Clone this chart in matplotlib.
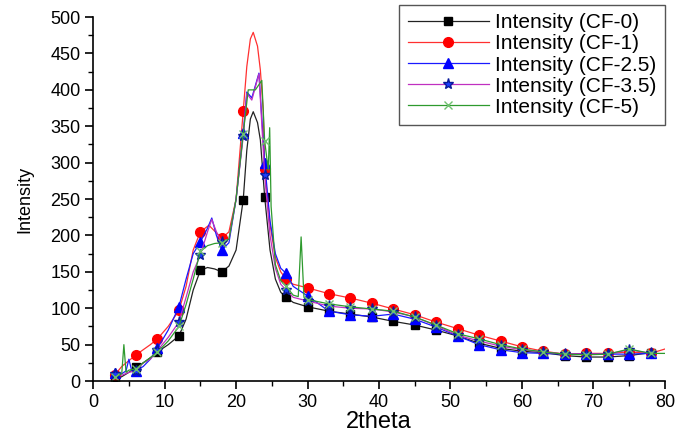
import numpy as np
import matplotlib
matplotlib.use('Agg')
import matplotlib.pyplot as plt
import matplotlib.ticker as mticker

plt.rcParams['font.family'] = ['Liberation Sans', 'DejaVu Sans']

# marker positions (every 3 degrees)
XM = np.arange(3, 79, 3)

# CF-0
x0 = [3, 4, 5, 6, 7, 8, 9, 10.5, 12, 13, 14, 15, 16, 17, 18, 19, 20, 21, 21.5, 22, 22.4, 23, 23.4, 24,
      24.75, 25.5, 26.25, 27, 28, 30, 33, 36, 39, 42, 45, 48, 51, 54, 57, 60, 63, 66, 69, 72, 75, 78]
y0 = [1, 6, 12, 19, 25, 32, 40, 50, 62, 85, 125, 152, 156, 154, 150, 158, 180, 249, 317, 360, 370, 355, 331, 253,
      180, 140, 122, 115, 108, 102, 96, 92, 88, 82, 77, 70, 62, 52, 45, 41, 39, 35, 33, 33, 35, 39]

# CF-1
x1 = [3, 4, 5, 6, 7, 8, 9, 10.5, 12, 13, 14, 15, 16.2, 17, 18, 19, 20, 21, 21.5, 22, 22.4, 23, 23.4, 23.8, 24,
      24.75, 25.5, 26.25, 27, 28, 30, 33, 36, 39, 42, 45, 48, 51, 54, 57, 60, 63, 66, 69, 72, 75, 78, 80]
y1 = [8, 20, 28, 36, 43, 50, 58, 75, 97, 130, 180, 205, 214, 206, 196, 205, 250, 371, 432, 470, 479, 460, 427, 372, 291,
      215, 170, 150, 140, 133, 128, 120, 114, 107, 99, 91, 81, 72, 63, 55, 47, 41, 37, 38, 38, 40, 38, 44]

# CF-2.5
x2 = [3, 4, 4.6, 5, 5.4, 6, 7, 8, 9, 10.5, 12, 13, 14, 15, 16, 16.6, 17.25, 18, 19, 20, 21, 21.5, 22.2, 23.2, 24,
      24.75, 25.5, 26.25, 27, 28, 30, 33, 36, 39, 42, 45, 48, 51, 54, 57, 60, 63, 66, 69, 72, 75, 78]
y2 = [11, 10, 14, 30, 14, 14, 20, 30, 45, 70, 102, 140, 175, 191, 210, 224, 200, 180, 190, 250, 341, 397, 389, 423, 300,
      220, 175, 155, 148, 130, 117, 96, 91, 89, 92, 85, 74, 62, 50, 43, 39, 38, 37, 37, 37, 37, 38]

# CF-3.5
x3 = [3, 4, 5, 6, 7, 8, 9, 10.5, 12, 13, 14, 15, 16, 16.6, 17.25, 18, 19, 20, 21, 21.5, 22.2, 23.2, 24,
      24.75, 25.5, 26.25, 27, 28, 30, 33, 36, 39, 42, 45, 48, 51, 54, 57, 60, 63, 66, 69, 72, 75, 78]
y3 = [10, 8, 12, 14, 25, 30, 42, 60, 81, 115, 150, 173, 205, 222, 205, 191, 195, 250, 336, 395, 386, 422, 283,
      200, 155, 133, 125, 115, 110, 103, 100, 99, 95, 88, 76, 63, 55, 48, 43, 40, 37, 37, 37, 43, 38]

# CF-5
x4 = [3, 4, 4.3, 4.6, 5, 6, 7, 8, 9, 10.5, 12, 13, 14, 15, 16, 17, 18, 19, 20, 21, 21.7, 22.7, 23.6, 24, 24.5,
      24.7, 24.9, 25.5, 26.25, 27, 28, 28.7, 29.1, 29.5, 30, 33, 36, 39, 42, 45, 48, 51, 54, 57, 60, 63, 66, 69, 72,
      75, 78, 80]
y4 = [5, 10, 50, 12, 15, 17, 25, 32, 40, 55, 75, 105, 140, 178, 186, 189, 190, 195, 250, 340, 400, 400, 413, 330, 290,
      348, 240, 160, 138, 130, 118, 116, 198, 115, 112, 106, 102, 99, 96, 88, 77, 65, 58, 50, 44, 40, 37, 36, 37,
      44, 38, 38]

labels = ['Intensity (CF-0)', 'Intensity (CF-1)', 'Intensity (CF-2.5)',
          'Intensity (CF-3.5)', 'Intensity (CF-5)']


def mark_idx(xs):
    xs = np.asarray(xs, dtype=float)
    return [i for i, v in enumerate(xs) if np.any(np.isclose(v, XM))]


fig = plt.figure(figsize=(6.75, 4.38), dpi=100)
ax = fig.add_axes([0.138, 0.130, 0.847, 0.831])

styles = [
    dict(color='#222222', marker='s', mfc='black', mec='black', ms=6),
    dict(color='#ff3030', marker='o', mfc='#ff0000', mec='#ff0000', ms=7),
    dict(color='#1a1aff', marker='^', mfc='#0000ff', mec='#0000ff', ms=7),
    dict(color='#c030c0', marker='*', mfc='#1a3cff', mec='#0a1a9a', ms=8),
    dict(color='#2e9a2e', marker='x', mfc='#2e9a2e', mec='#70c070', ms=6),
]
series = [(x0, y0), (x1, y1), (x2, y2), (x3, y3), (x4, y4)]
for (xs, ys), st, lab in zip(series, styles, labels):
    ax.plot(xs, ys, lw=0.9, markevery=mark_idx(xs), label=lab, **st)

ax.set_xlim(0, 80)
ax.set_ylim(0, 500)
ax.spines['top'].set_visible(False)
ax.spines['right'].set_visible(False)
ax.xaxis.set_major_locator(mticker.MultipleLocator(10))
ax.xaxis.set_minor_locator(mticker.MultipleLocator(5))
ax.yaxis.set_major_locator(mticker.MultipleLocator(50))
ax.yaxis.set_minor_locator(mticker.MultipleLocator(25))
ax.tick_params(which='major', direction='out', length=6, width=1.2, labelsize=13, pad=3)
ax.tick_params(which='minor', direction='out', length=3.5, width=1)
ax.spines['left'].set_linewidth(1.2)
ax.spines['bottom'].set_linewidth(1.2)
ax.set_xlabel('2theta', fontsize=17, labelpad=0)
ax.set_ylabel('Intensity', fontsize=13, labelpad=12)

leg = ax.legend(loc='upper right', bbox_to_anchor=(665 / 675, 1 - 5 / 438),
                bbox_transform=fig.transFigure, fontsize=15, fancybox=False,
                edgecolor='#555555', framealpha=1, borderpad=0.4,
                labelspacing=0.1, handlelength=3.9, handletextpad=0.3,
                borderaxespad=0)
leg.get_frame().set_linewidth(1.0)

fig.savefig('out.png', dpi=100)
